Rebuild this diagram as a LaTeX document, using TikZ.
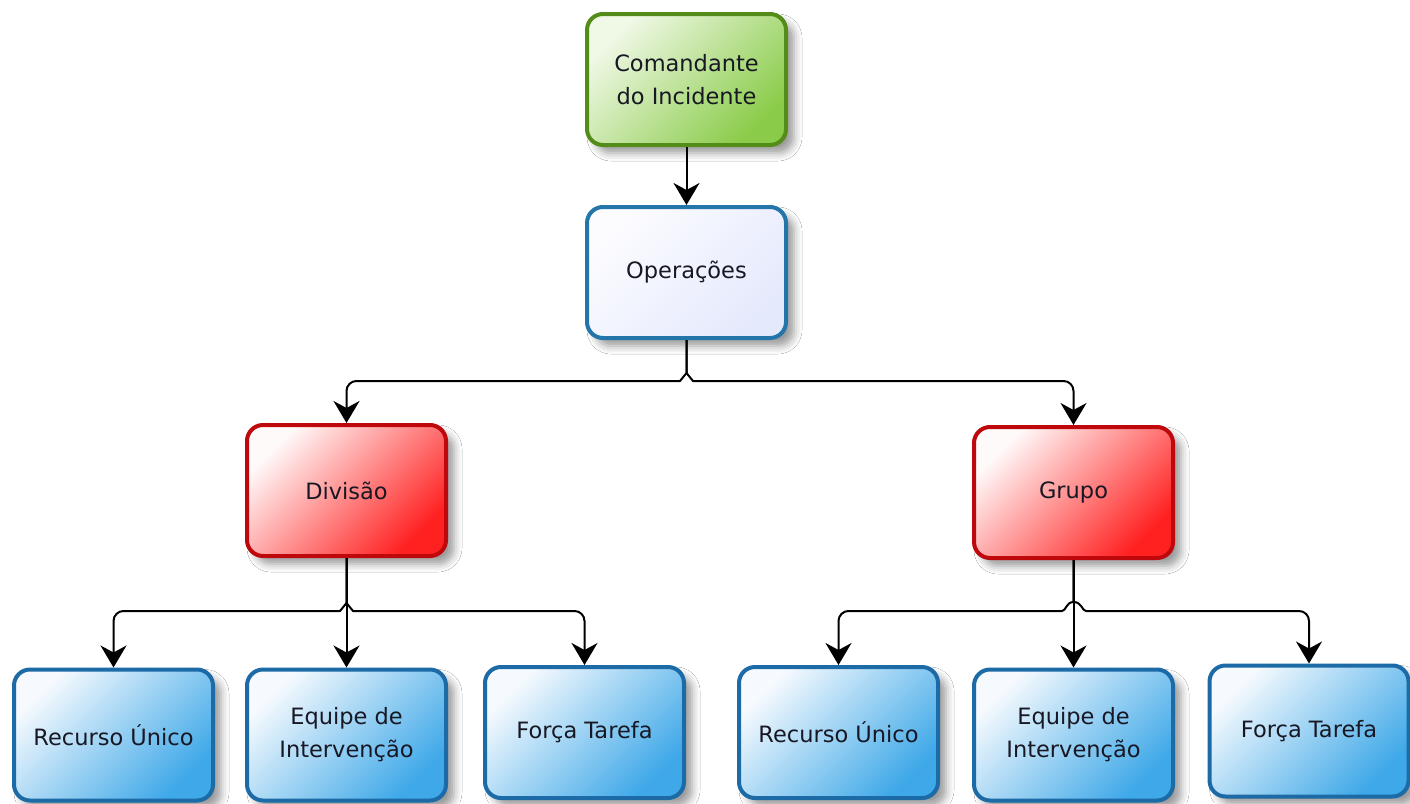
\documentclass[tikz,border=0pt]{standalone}
\usepackage{fontspec}
\setmainfont{DejaVu Sans}
\usetikzlibrary{arrows.meta,shadows.blur}

\definecolor{txt}{RGB}{24,24,36}
\definecolor{grnB}{RGB}{84,140,26}
\definecolor{grnL}{RGB}{240,248,230}
\definecolor{grnD}{RGB}{138,204,74}
\definecolor{opB}{RGB}{36,118,170}
\definecolor{opL}{RGB}{252,252,255}
\definecolor{opD}{RGB}{228,233,252}
\definecolor{redB}{RGB}{190,8,12}
\definecolor{redL}{RGB}{255,250,250}
\definecolor{redD}{RGB}{255,32,32}
\definecolor{bluB}{RGB}{28,106,166}
\definecolor{bluL}{RGB}{246,250,254}
\definecolor{bluD}{RGB}{62,168,232}

\begin{document}
\begin{tikzpicture}[x=1pt,y=-1pt,
  box/.style={draw, line width=4pt, rounded corners=16pt,
    minimum width=199pt, minimum height=131pt, align=center,
    font=\fontsize{22.5}{33}\selectfont, text=txt, shading angle=45,
    blur shadow={shadow xshift=8pt, shadow yshift=-8pt,
      shadow blur radius=8pt, shadow opacity=40}},
  cmdbox/.style={box, draw=grnB, top color=grnL, bottom color=grnD, shading angle=45},
  opbox/.style={box, draw=opB, top color=opL, bottom color=opD, shading angle=45},
  secbox/.style={box, draw=redB, top color=redL, bottom color=redD, shading angle=45},
  unitbox/.style={box, draw=bluB, top color=bluL, bottom color=bluD, shading angle=45},
  conn/.style={line width=2pt, line join=round,
    -{Stealth[length=22pt,width=26pt,inset=7pt]}},
]
\useasboundingbox (0,0) rectangle (1410,803);
\fill[white] (0,0) rectangle (1410,803);

% command levels
\node[cmdbox] (cmd) at (686.5,79.5) {Comandante\\do Incidente};
\node[opbox]  (ops) at (686.5,272.5) {Operações};

% sections
\node[secbox] (div) at (346.5,490.5) {Divisão};
\node[secbox] (grp) at (1073.5,492.5) {Grupo};

% resources under Divisão
\node[unitbox] (ru1) at (113.5,735) {Recurso Único};
\node[unitbox] (eq1) at (346.5,735) {Equipe de\\Intervenção};
\node[unitbox] (ft1) at (584.5,732.5) {Força Tarefa};

% resources under Grupo
\node[unitbox] (ru2) at (838.5,732.5) {Recurso Único};
\node[unitbox] (eq2) at (1073.5,735) {Equipe de\\Intervenção};
\node[unitbox] (ft2) at (1309,731) {Força Tarefa};

% connectors
\draw[conn] (cmd.south) -- (ops.north);

\draw[conn] (ops.south) -- (686.5,373) -- (680,381)
  [rounded corners=10pt] -- (346.5,381) -- (div.north);
\draw[conn] (ops.south) -- (686.5,373) -- (693,381)
  [rounded corners=10pt] -- (1073.5,381) -- (grp.north);

\draw[conn] (div.south) -- (eq1.north);
\draw[conn] (div.south) -- (346.5,603) -- (340,611)
  [rounded corners=10pt] -- (113.5,611) -- (ru1.north);
\draw[conn] (div.south) -- (346.5,603) -- (353,611)
  [rounded corners=10pt] -- (584.5,611) -- (ft1.north);

\draw[conn] (grp.south) -- (eq2.north);
\draw[conn] (grp.south) -- (1073.5,602) .. controls (1066,602) and (1066,611) .. (1062,611)
  [rounded corners=10pt] -- (838.5,611) -- (ru2.north);
\draw[conn] (grp.south) -- (1073.5,602) .. controls (1082,602) and (1082,611) .. (1086,611)
  [rounded corners=10pt] -- (1309,611) -- (ft2.north);
\end{tikzpicture}
\end{document}
